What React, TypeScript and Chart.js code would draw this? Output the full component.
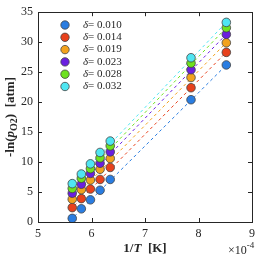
import React, { useEffect, useRef } from "react";
import { Chart, registerables } from "chart.js";
Chart.register(...registerables);

const invT = [5.64, 5.81, 5.98, 6.16, 6.35, 7.86, 8.52];
const d010 = [0.6, 2.2, 3.7, 5.3, 7.1, 20.4, 26.2];
const d014 = [2.4, 3.9, 5.5, 7.1, 9.1, 22.4, 28.3];
const d019 = [3.8, 5.4, 7.0, 8.8, 10.6, 24.1, 29.9];
const d023 = [4.8, 6.3, 8.1, 9.8, 11.7, 25.4, 31.3];
const d028 = [5.6, 7.3, 8.9, 10.7, 12.7, 26.5, 32.4];
const d032 = [6.4, 8.0, 9.7, 11.6, 13.5, 27.4, 33.3];

const fitX = [5.6, 8.55];
const fit010 = [0.25, 26.45];
const fit014 = [2.0, 28.6];
const fit019 = [3.4, 30.2];
const fit023 = [4.4, 31.6];
const fit028 = [5.2, 32.7];
const fit032 = [6.0, 33.6];

const deltaLabels = ["0.010", "0.014", "0.019", "0.023", "0.028", "0.032"];
const colors = ["#2a7de1", "#e8411c", "#f2a21e", "#6a1fe0", "#6ee21f", "#4fe6f2"];
const seriesData = [d010, d014, d019, d023, d028, d032];
const fitData = [fit010, fit014, fit019, fit023, fit028, fit032];

const xTicks = [5, 6, 7, 8, 9];
const yTicks = [0, 5, 10, 15, 20, 25, 30, 35];

const SERIF = "'Liberation Serif', 'Times New Roman', serif";
const INK = "#262626";

const decor = {
  id: "decor",
  afterDraw(chart: any) {
    const { ctx, chartArea: a, scales } = chart;
    const xs = scales.x, ys = scales.y;
    ctx.save();
    ctx.strokeStyle = INK;
    ctx.lineWidth = 1;
    ctx.strokeRect(Math.round(a.left) + 0.5, Math.round(a.top) + 0.5, Math.round(a.right - a.left), Math.round(a.bottom - a.top));
    ctx.beginPath();
    const tl = 4;
    xTicks.forEach((v) => {
      const px = Math.round(xs.getPixelForValue(v)) + 0.5;
      ctx.moveTo(px, a.bottom); ctx.lineTo(px, a.bottom - tl);
      ctx.moveTo(px, a.top); ctx.lineTo(px, a.top + tl);
    });
    yTicks.forEach((v) => {
      const py = Math.round(ys.getPixelForValue(v)) + 0.5;
      ctx.moveTo(a.left, py); ctx.lineTo(a.left + tl, py);
      ctx.moveTo(a.right, py); ctx.lineTo(a.right - tl, py);
    });
    ctx.stroke();

    // legend
    ctx.textBaseline = "middle";
    deltaLabels.forEach((lab, i) => {
      const y = 25 + i * 12.3;
      const x = 65;
      ctx.beginPath();
      ctx.arc(x, y, 4.2, 0, Math.PI * 2);
      ctx.fillStyle = colors[i];
      ctx.fill();
      ctx.strokeStyle = "#444";
      ctx.lineWidth = 0.8;
      ctx.stroke();
      ctx.fillStyle = INK;
      ctx.font = `italic 11px ${SERIF}`;
      ctx.textAlign = "left";
      ctx.fillText("δ", 83, y);
      const w = ctx.measureText("δ").width;
      ctx.font = `11px ${SERIF}`;
      ctx.fillText("= " + lab, 83 + w, y);
    });

    // y axis title
    ctx.save();
    ctx.translate(10, 117);
    ctx.rotate(-Math.PI / 2);
    const segs: [string, string, number][] = [
      ["-ln(", `bold 13px ${SERIF}`, 0],
      ["p", `bold italic 13px ${SERIF}`, 0],
      ["O2", `bold 10px ${SERIF}`, 3],
      [")  [atm]", `bold 13px ${SERIF}`, 0],
    ];
    let total = 0;
    segs.forEach(([t, f]) => { ctx.font = f; total += ctx.measureText(t).width; });
    let cx = -total / 2;
    ctx.textAlign = "left";
    ctx.textBaseline = "alphabetic";
    ctx.fillStyle = INK;
    segs.forEach(([t, f, dy]) => {
      ctx.font = f;
      ctx.fillText(t, cx, 4 + dy);
      cx += ctx.measureText(t).width;
    });
    ctx.restore();

    // x axis title
    const xsegs: [string, string][] = [
      ["1/", `bold 13px ${SERIF}`],
      ["T", `bold italic 13px ${SERIF}`],
      ["  [K]", `bold 13px ${SERIF}`],
    ];
    let tw = 0;
    xsegs.forEach(([t, f]) => { ctx.font = f; tw += ctx.measureText(t).width; });
    let xx = (a.left + a.right) / 2 - tw / 2;
    ctx.textBaseline = "alphabetic";
    ctx.textAlign = "left";
    xsegs.forEach(([t, f]) => {
      ctx.font = f;
      ctx.fillText(t, xx, 252);
      xx += ctx.measureText(t).width;
    });

    // exponent
    ctx.font = `12px ${SERIF}`;
    ctx.fillText("×10", 228, 254);
    const ew = ctx.measureText("×10").width;
    ctx.font = `9px ${SERIF}`;
    ctx.fillText("-4", 228 + ew, 248);
    ctx.restore();
  },
};

export default function App() {
  const ref = useRef<HTMLCanvasElement>(null);
  useEffect(() => {
    document.body.style.margin = "0";
    const datasets: any[] = [];
    seriesData.forEach((d, i) => {
      datasets.push({
        type: "scatter",
        data: invT.map((x, k) => ({ x, y: d[k] })),
        backgroundColor: colors[i],
        borderColor: "#444",
        borderWidth: 0.8,
        pointRadius: 4.3,
        order: 5 - i,
      });
    });
    fitData.forEach((d, i) => {
      datasets.push({
        type: "line",
        data: fitX.map((x, k) => ({ x, y: d[k] })),
        borderColor: colors[i],
        borderWidth: 1,
        borderDash: [3, 3],
        pointRadius: 0,
        fill: false,
        order: 20 + i,
      });
    });
    const chart = new Chart(ref.current!, {
      type: "scatter",
      data: { datasets },
      options: {
        animation: false,
        responsive: false,
        events: [],
        layout: { padding: { left: 0, right: 4, top: 5, bottom: 0 } },
        plugins: { legend: { display: false }, tooltip: { enabled: false } },
        scales: {
          x: {
            type: "linear",
            min: 5,
            max: 9,
            afterFit: (s: any) => { s.height = 35; },
            afterBuildTicks: (s: any) => { s.ticks = xTicks.map((v) => ({ value: v })); },
            grid: { display: false, drawTicks: false },
            border: { display: false },
            ticks: { color: INK, font: { family: SERIF, size: 12 }, padding: 5 },
          },
          y: {
            type: "linear",
            min: 0,
            max: 35,
            afterFit: (s: any) => { s.width = 38; },
            afterBuildTicks: (s: any) => { s.ticks = yTicks.map((v) => ({ value: v })); },
            grid: { display: false, drawTicks: false },
            border: { display: false },
            ticks: { color: INK, font: { family: SERIF, size: 12 }, padding: 5 },
          },
        },
      },
      plugins: [decor],
    });
    return () => chart.destroy();
  }, []);
  return <canvas ref={ref} width={260} height={257} style={{ display: "block" }} />;
}
